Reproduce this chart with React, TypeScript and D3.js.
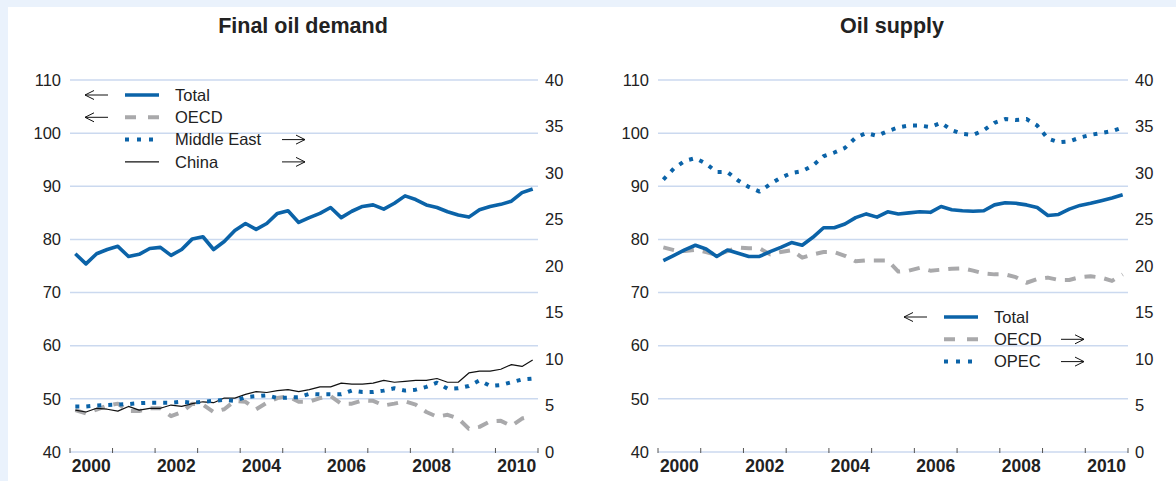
import React from "react";
import * as d3 from "d3";

// ---------- Data (quarterly, 2000Q1 .. 2010Q4) ----------
const demandTotal = [
  77.3, 75.4, 77.3, 78.1, 78.7, 76.8, 77.2, 78.3, 78.5, 77.0, 78.1, 80.1,
  80.5, 78.1, 79.6, 81.7, 83.0, 81.9, 83.0, 84.9, 85.4, 83.2, 84.1, 84.9,
  86.0, 84.1, 85.3, 86.2, 86.5, 85.7, 86.8, 88.2, 87.5, 86.5, 86.0, 85.2,
  84.6, 84.2, 85.6, 86.2, 86.6, 87.2, 88.8, 89.5,
];
const demandOECD = [
  4.5, 4.15, 4.55, 5.0, 5.2, 4.4, 4.4, 4.7, 4.7, 3.85, 4.3, 5.2,
  5.1, 4.3, 4.6, 5.5, 5.4, 4.6, 5.3, 5.8, 6.0, 5.4, 5.4, 5.8,
  6.0, 5.2, 5.2, 5.55, 5.5, 5.0, 5.2, 5.45, 5.1, 4.3, 3.8, 4.0,
  3.6, 2.5, 2.7, 3.3, 3.35, 2.8, 3.6, 3.9,
];
const demandMiddleEast = [
  4.9, 4.9, 5.0, 5.05, 5.1, 5.15, 5.25, 5.3, 5.3, 5.3, 5.4, 5.3,
  5.4, 5.5, 5.6, 5.5, 5.9, 6.0, 6.1, 5.8, 5.85, 5.9, 6.25, 6.2,
  6.2, 6.2, 6.6, 6.45, 6.45, 6.6, 6.85, 6.6, 6.7, 7.0, 7.45, 6.8,
  6.85, 7.1, 7.7, 7.1, 7.2, 7.5, 7.8, 7.9,
];
const demandChina = [
  4.5, 4.3, 4.7, 4.6, 4.4, 4.9, 4.5, 4.7, 4.7, 5.05, 4.9, 5.2,
  5.4, 5.3, 5.8, 5.8, 6.2, 6.5, 6.4, 6.6, 6.7, 6.5, 6.7, 7.0,
  7.0, 7.4, 7.3, 7.3, 7.4, 7.7, 7.5, 7.6, 7.7, 7.7, 7.9, 7.5,
  7.5, 8.5, 8.7, 8.7, 8.9, 9.4, 9.2, 9.9,
];
const supplyTotal = [
  76.0, 77.0, 78.05, 78.9, 78.2, 76.8, 78.0, 77.4, 76.8, 76.8, 77.7, 78.5,
  79.4, 78.9, 80.4, 82.2, 82.2, 82.9, 84.1, 84.8, 84.2, 85.2, 84.8, 85.0,
  85.2, 85.1, 86.2, 85.6, 85.4, 85.3, 85.4, 86.5, 86.9, 86.8, 86.5, 86.0,
  84.5, 84.7, 85.7, 86.4, 86.8, 87.3, 87.8, 88.4,
];
const supplyOECD = [
  22.0, 21.7, 21.6, 21.75, 21.5, 21.2, 21.6, 22.0, 21.9, 21.9, 21.25, 21.5,
  21.7, 20.9, 21.25, 21.5, 21.5, 21.1, 20.5, 20.6, 20.6, 20.6, 19.4, 19.5,
  19.8, 19.5, 19.6, 19.7, 19.75, 19.5, 19.2, 19.1, 19.1, 18.8, 18.2, 18.6,
  18.75, 18.5, 18.5, 18.8, 18.9, 18.75, 18.4, 19.1,
];
const supplyOPEC = [
  29.3, 30.5, 31.3, 31.6, 31.0, 30.1, 30.1, 29.2, 28.5, 28.0, 28.8, 29.5,
  30.0, 30.2, 30.8, 31.8, 32.2, 32.7, 33.8, 34.3, 34.0, 34.5, 34.9, 35.1,
  35.1, 34.95, 35.4, 34.6, 34.2, 34.1, 34.6, 35.4, 35.8, 35.7, 35.8, 35.1,
  33.7, 33.3, 33.4, 33.8, 34.1, 34.3, 34.5, 34.9,
];

const leftTicks = [40, 50, 60, 70, 80, 90, 100, 110];
const rightTicks = [0, 5, 10, 15, 20, 25, 30, 35, 40];
const yearLabels = [2000, 2002, 2004, 2006, 2008, 2010];
const yearTicks = d3.range(2000, 2012);
const quarters = d3.range(44).map((i) => 2000 + (i + 0.5) / 4);

// ---------- Styles ----------
const FONT = "'Liberation Sans', Arial, Helvetica, sans-serif";
const BLUE = "#0b63a8";
const GREY = "#a9a9ab";
const GRID = "#cbd9ef";
const TEXT = "#222";
const TICK_FS = 16.5;

type Series = {
  values: number[];
  axis: "left" | "right";
  kind: "solid" | "dash" | "dot" | "thin";
};

const styleFor = (kind: Series["kind"]) => {
  switch (kind) {
    case "solid":
      return { stroke: BLUE, strokeWidth: 3.6, dash: undefined as string | undefined };
    case "dash":
      return { stroke: GREY, strokeWidth: 4, dash: "11,9" };
    case "dot":
      return { stroke: BLUE, strokeWidth: 4, dash: "4,7" };
    default:
      return { stroke: "#111", strokeWidth: 1.2, dash: undefined };
  }
};

type LegendItem = { label: string; kind: Series["kind"]; arrow: "left" | "right" };

function Arrow({ x, y, dir }: { x: number; y: number; dir: "left" | "right" }) {
  const w = 23;
  if (dir === "left") {
    return (
      <path
        d={`M${x + w},${y} L${x},${y} M${x + 9},${y - 4.5} L${x},${y} L${x + 9},${y + 4.5}`}
        fill="none"
        stroke="#111"
        strokeWidth={1}
      />
    );
  }
  return (
    <path
      d={`M${x},${y} L${x + w},${y} M${x + w - 9},${y - 4.5} L${x + w},${y} L${x + w - 9},${y + 4.5}`}
      fill="none"
      stroke="#111"
      strokeWidth={1}
    />
  );
}

function Panel({
  x0,
  x1,
  title,
  series,
  legend,
  legendX,
  legendY,
  rightArrowX,
}: {
  x0: number;
  x1: number;
  title: string;
  series: Series[];
  legend: LegendItem[];
  legendX: number;
  legendY: number;
  rightArrowX: number;
}) {
  const yTop = 80;
  const yBot = 452;
  const x = d3.scaleLinear().domain([2000, 2011]).range([x0, x1]);
  const yL = d3.scaleLinear().domain([40, 110]).range([yBot, yTop]);
  const yR = d3.scaleLinear().domain([0, 40]).range([yBot, yTop]);

  return (
    <g fontFamily={FONT}>
      <text
        x={(x0 + x1) / 2 - 1}
        y={33}
        textAnchor="middle"
        fontSize={21.5}
        fontWeight="bold"
        fill={TEXT}
      >
        {title}
      </text>
      {leftTicks.map((t) => (
        <g key={"g" + t}>
          <line x1={x0} x2={x1} y1={yL(t)} y2={yL(t)} stroke={GRID} strokeWidth={1.5} />
          <text x={x0 - 9} y={yL(t)} dy="0.35em" textAnchor="end" fontSize={TICK_FS} fill={TEXT}>
            {t}
          </text>
        </g>
      ))}
      {rightTicks.map((t) => (
        <text key={"r" + t} x={x1 + 7} y={yR(t)} dy="0.35em" textAnchor="start" fontSize={TICK_FS} fill={TEXT}>
          {t}
        </text>
      ))}
      {yearTicks.map((t) => (
        <line key={"t" + t} x1={x(t)} x2={x(t)} y1={yBot - 4} y2={yBot + 1} stroke="#555" strokeWidth={1} />
      ))}
      {yearLabels.map((t) => (
        <text key={"y" + t} x={x(t + 0.5)} y={472} textAnchor="middle" fontSize={17.5} fontWeight="bold" fill={TEXT}>
          {t}
        </text>
      ))}
      {series.map((s, i) => {
        const ys = s.axis === "left" ? yL : yR;
        const line = d3
          .line<number>()
          .x((_, j) => x(quarters[j]))
          .y((v) => ys(v))
          .curve(d3.curveLinear);
        const st = styleFor(s.kind);
        return (
          <path
            key={"s" + i}
            d={line(s.values) || ""}
            fill="none"
            stroke={st.stroke}
            strokeWidth={st.strokeWidth}
            strokeDasharray={st.dash}
            strokeLinejoin="round"
          />
        );
      })}
      {legend.map((item, i) => {
        const ly = legendY + i * 22.3;
        const st = styleFor(item.kind);
        return (
          <g key={"l" + i}>
            {item.arrow === "left" ? <Arrow x={legendX} y={ly} dir="left" /> : <Arrow x={rightArrowX} y={ly} dir="right" />}
            <line
              x1={legendX + 40}
              x2={legendX + 74}
              y1={ly}
              y2={ly}
              stroke={st.stroke}
              strokeWidth={st.strokeWidth}
              strokeDasharray={item.kind === "dash" ? "11,12" : item.kind === "dot" ? "4,8" : undefined}
            />
            <text x={legendX + 90} y={ly} dy="0.35em" fontSize={16.5} fill={TEXT}>
              {item.label}
            </text>
          </g>
        );
      })}
    </g>
  );
}

export default function App() {
  return (
    <svg
      width={1176}
      height={481}
      style={{ position: "absolute", left: 0, top: 0, display: "block" }}
    >
      <rect x={0} y={0} width={1176} height={481} fill="#eaf2fc" />
      <rect x={8} y={7} width={1168} height={474} fill="#ffffff" />
      <Panel
        x0={70}
        x1={538}
        title="Final oil demand"
        series={[
          { values: demandOECD, axis: "right", kind: "dash" },
          { values: demandChina, axis: "right", kind: "thin" },
          { values: demandMiddleEast, axis: "right", kind: "dot" },
          { values: demandTotal, axis: "left", kind: "solid" },
        ]}
        legend={[
          { label: "Total", kind: "solid", arrow: "left" },
          { label: "OECD", kind: "dash", arrow: "left" },
          { label: "Middle East", kind: "dot", arrow: "right" },
          { label: "China", kind: "thin", arrow: "right" },
        ]}
        legendX={85}
        legendY={95}
        rightArrowX={282}
      />
      <Panel
        x0={658}
        x1={1128}
        title="Oil supply"
        series={[
          { values: supplyOECD, axis: "right", kind: "dash" },
          { values: supplyOPEC, axis: "right", kind: "dot" },
          { values: supplyTotal, axis: "left", kind: "solid" },
        ]}
        legend={[
          { label: "Total", kind: "solid", arrow: "left" },
          { label: "OECD", kind: "dash", arrow: "right" },
          { label: "OPEC", kind: "dot", arrow: "right" },
        ]}
        legendX={904}
        legendY={317}
        rightArrowX={1061}
      />
    </svg>
  );
}
